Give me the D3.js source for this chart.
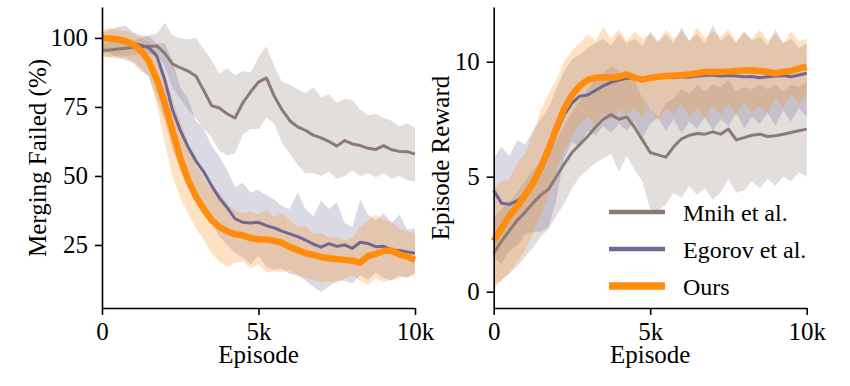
<!DOCTYPE html>
<html><head><meta charset="utf-8">
<script src="https://cdn.jsdelivr.net/npm/d3@7"></script>
<style>html,body{margin:0;padding:0;background:#fff}svg{display:block}</style>
</head><body>
<svg id="c" width="850" height="386"></svg>
<script>
// ---------- DATA (episodes sampled every 250) ----------
const episodes = d3.range(0, 10001, 250);
const seriesNames = ["Mnih et al.", "Egorov et al.", "Ours"];
const xTicks = [0, 5000, 10000];
const xTickLabels = ["0", "5k", "10k"];
const leftYTicks = [25, 50, 75, 100];
const rightYTicks = [0, 5, 10];

// Left panel: Merging Failed (%)
const failMnih = [95.4,95.6,96.0,96.3,96.6,96.8,97.0,97.1,94.5,90.6,89.2,88.0,86.2,81.0,75.5,74.6,72.5,71.0,76.5,80.5,84.0,85.5,79.0,74.0,70.0,67.8,66.5,64.8,63.8,62.5,60.8,62.8,61.6,61.0,60.0,59.6,61.0,59.5,58.9,58.8,57.9];
const failMnihHi = [98,98.5,98.8,99,99,100,101,101.5,105.5,101,100,99.5,100,96,92,87,89,86.5,88,87.5,93,97,90,84,83,81.5,80,82,78.5,79.5,76.5,78,77.5,74,72,72.5,71,70,68,69,67.5];
const failMnihLo = [93,93,93.5,93.5,93.8,94,94,94,90,82,78,74,71,67,64,59,57.5,58,65,67,67,71,69,62,58,54,51,51,50,51.5,49,50,52,50,51,49.5,51,49,50,48.5,48];
const failEgorov = [99.8,99.6,99.2,98.6,98.0,97.3,96.4,93.5,85.0,74.0,66.5,60.5,55.5,51.5,46.5,42.0,38.5,34.5,33.2,33.0,33.2,32.0,31.2,30.0,29.0,28.0,26.8,25.3,24.2,25.5,24.5,25.0,23.8,26.0,25.5,24.4,24.5,23.2,23.0,22.5,22.0];
const failEgorovHi = [102,103,104,104.5,102,101,100.5,98,98,92,82,78,70,67,61,57,52,46,47.5,44,45,43,41.5,39,38,44,38,35.5,41,38,40.5,33,31.5,41.5,36,34,36.5,33,36,30.5,31];
const failEgorovLo = [95,94.5,93,92,91,88,86,78,70,60,52,47,42,38,33,28,25,22,20.5,18,21,17,16,16.5,14.5,14,12,10,8,10,12,12,11,14,12.5,15,13,12,14,13,15];
const failOurs = [99.9,99.8,99.5,98.8,97.6,95.3,91.5,85.0,76.5,66.5,56.5,48.5,42.5,38.0,34.0,31.5,30.0,28.9,28.5,27.5,27.0,27.0,26.5,25.8,24.3,23.2,22.0,21.4,20.6,20.2,19.9,19.6,19.3,18.6,21.0,21.8,22.8,23.0,21.6,20.8,19.6];
const failOursHi = [103,103.5,103,102.5,101.5,100,98.5,95,87,78,70,62,54,49,45,44,40,37.5,36.5,37,36,37.5,35,36.5,34,31.5,32,29,29.5,27.5,28,26.5,27.5,31.5,34,36,34,33.5,31,30,29];
const failOursLo = [94,93,92.5,93,91.5,89,86,76,62,50,42,36.5,31,27,22,19,17,18.5,19,16.5,18,15,15.5,15,16,14,13,12.5,11.5,12,11,13,14,12,10.5,13,11.5,12.5,13,13.5,14];

// Right panel: Episode Reward
const rewMnih = [1.67,2.2,2.65,3.1,3.45,3.85,4.2,4.45,5.0,5.55,6.05,6.4,6.75,7.15,7.5,7.7,7.5,7.6,7.15,6.6,6.05,5.95,5.85,6.3,6.65,6.8,6.88,6.85,6.95,6.85,7.07,6.6,6.7,6.8,6.85,6.75,6.78,6.85,6.92,7.0,7.07];
const rewMnihHi = [3.2,3.6,3.9,4.3,4.8,5.3,5.6,6.0,6.6,7.2,7.8,8.3,8.8,9.2,9.5,9.8,9.6,9.4,9.2,8.4,8.0,7.6,8.2,8.4,8.8,8.6,9.0,8.7,9.0,8.9,9.2,8.7,8.9,8.8,9.0,8.8,9.0,8.7,9.0,8.9,9.1];
const rewMnihLo = [0.3,0.5,0.8,1.1,1.5,1.9,2.4,2.7,3.3,3.8,4.5,5.0,5.3,5.6,5.8,6.0,5.2,5.9,5.3,4.8,3.6,3.5,3.8,4.3,4.1,4.6,4.2,4.5,4.0,4.3,4.9,4.3,4.4,4.8,4.5,4.9,4.6,5.0,4.8,5.2,5.0];
const rewEgorov = [4.4,3.85,3.8,3.95,4.2,4.65,5.25,6.0,6.9,7.7,8.2,8.5,8.55,8.75,8.95,9.1,9.2,9.28,9.28,9.25,9.3,9.3,9.32,9.3,9.35,9.33,9.38,9.4,9.42,9.38,9.4,9.38,9.35,9.36,9.3,9.35,9.38,9.4,9.35,9.42,9.5];
const rewEgorovHi = [5.8,6.3,5.9,6.6,6.4,7.0,7.5,8.0,8.8,9.6,10.1,10.3,10.6,10.8,11.0,10.7,11.2,10.8,11.0,10.7,11.3,10.9,11.2,10.8,11.5,10.9,11.2,10.8,11.6,10.9,11.2,10.8,11.3,10.9,11.1,10.7,11.4,10.8,11.0,10.6,10.8];
const rewEgorovLo = [1.5,1.2,1.8,2.0,2.5,2.6,2.6,2.8,4.0,5.8,6.5,6.3,7.0,6.8,7.2,6.9,7.3,7.0,7.4,6.7,7.3,7.6,7.0,7.5,6.9,7.4,7.1,7.6,7.0,7.5,7.2,7.8,7.1,7.6,7.3,7.8,7.2,7.9,7.4,8.0,7.6];
const rewOurs = [2.2,2.75,3.3,3.7,4.2,4.7,5.4,6.2,7.1,7.95,8.55,8.95,9.2,9.3,9.32,9.3,9.35,9.45,9.3,9.22,9.3,9.35,9.38,9.4,9.42,9.45,9.5,9.55,9.55,9.55,9.58,9.6,9.62,9.63,9.6,9.55,9.5,9.55,9.6,9.7,9.78];
const rewOursHi = [4.5,4.8,4.9,5.6,6.0,6.8,7.9,8.6,9.2,10.0,10.5,10.8,11.2,10.9,11.5,11.0,11.4,10.9,11.3,11.0,11.2,10.8,11.4,11.0,11.3,10.9,11.5,11.0,11.3,11.1,11.4,10.9,11.3,11.0,11.4,10.9,11.2,10.8,11.3,10.9,11.0];
const rewOursLo = [0.1,0.5,0.8,1.3,1.8,2.5,3.3,4.2,5.3,6.1,6.8,7.3,7.6,7.3,7.8,7.5,7.9,7.7,8.0,7.6,8.1,7.4,8.0,7.7,8.2,7.6,8.0,7.5,8.1,7.7,8.2,7.6,8.3,7.8,8.1,7.7,8.4,8.0,8.6,8.2,8.6];

// ---------- STYLE ----------
const colors = ["#8c7b72", "#6e6892", "#ff8c0a"];
const widths = [3, 3, 6.5];
const FONT = "'Liberation Serif', 'Times New Roman', serif";
const FS_TICK = 25, FS_LABEL = 25, FS_LEG = 24;

const svg = d3.select("#c");

function panel(cfg) {
  const x = d3.scaleLinear().domain([0, 10000]).range([cfg.x0, cfg.x1]);
  const y = d3.scaleLinear().domain(cfg.yDomain).range([308, 7]);
  const g = svg.append("g");
  const data = cfg.series;
  data.forEach((s, k) => {
    const pts = episodes.map((e, i) => ({e, lo: s.lo[i], hi: s.hi[i]}));
    g.append("path").datum(pts)
      .attr("d", d3.area().x(d => x(d.e)).y0(d => y(d.lo)).y1(d => y(d.hi)))
      .attr("fill", colors[k]).attr("fill-opacity", 0.25).attr("stroke", "none");
  });
  data.forEach((s, k) => {
    const pts = episodes.map((e, i) => ({e, m: s.mean[i]}));
    g.append("path").datum(pts)
      .attr("d", d3.line().x(d => x(d.e)).y(d => y(d.m)))
      .attr("fill", "none").attr("stroke", colors[k]).attr("stroke-width", widths[k])
      .attr("stroke-linejoin", "round");
  });
  const xa = g.append("g").attr("transform", "translate(0,308)")
    .call(d3.axisBottom(x).tickValues(xTicks).tickFormat((d, i) => xTickLabels[i]).tickSize(7).tickSizeOuter(0));
  const ya = g.append("g").attr("transform", `translate(${cfg.x0},0)`)
    .call(d3.axisLeft(y).tickValues(cfg.yTicks).tickSize(7).tickPadding(7).tickSizeOuter(0));
  [xa, ya].forEach(a => {
    a.select(".domain").attr("stroke", "#000").attr("stroke-width", 1.6);
    a.selectAll(".tick line").attr("stroke", "#000").attr("stroke-width", 1.6);
    a.selectAll("text").attr("font-family", FONT).attr("font-size", FS_TICK).attr("fill", "#000");
  });
  xa.selectAll("text").attr("dy", null).attr("y", 32);
  g.append("text").attr("x", (cfg.x0 + cfg.x1) / 2).attr("y", 363)
    .attr("text-anchor", "middle").attr("font-family", FONT).attr("font-size", FS_LABEL).text("Episode");
  g.append("text").attr("transform", `translate(${cfg.labelX},158) rotate(-90)`)
    .attr("text-anchor", "middle").attr("font-family", FONT).attr("font-size", FS_LABEL).text(cfg.yLabel);
  return {x, y, g};
}

panel({
  x0: 102, x1: 415, yDomain: [2.17, 111.2], yTicks: leftYTicks, labelX: 46,
  yLabel: "Merging Failed (%)",
  series: [
    {mean: failMnih, lo: failMnihLo, hi: failMnihHi},
    {mean: failEgorov, lo: failEgorovLo, hi: failEgorovHi},
    {mean: failOurs, lo: failOursLo, hi: failOursHi}
  ]
});
panel({
  x0: 493.7, x1: 806.7, yDomain: [-0.71, 12.38], yTicks: rightYTicks, labelX: 449,
  yLabel: "Episode Reward",
  series: [
    {mean: rewMnih, lo: rewMnihLo, hi: rewMnihHi},
    {mean: rewEgorov, lo: rewEgorovLo, hi: rewEgorovHi},
    {mean: rewOurs, lo: rewOursLo, hi: rewOursHi}
  ]
});

// legend
const lg = svg.append("g");
seriesNames.forEach((n, k) => {
  const yy = 212 + k * 37;
  lg.append("line").attr("x1", 609).attr("x2", 665).attr("y1", yy).attr("y2", yy)
    .attr("stroke", colors[k]).attr("stroke-width", k === 2 ? 7.5 : 4.5);
  lg.append("text").attr("x", 683).attr("y", yy + 8.5).attr("font-family", FONT)
    .attr("font-size", FS_LEG).text(n);
});
</script>
</body></html>
